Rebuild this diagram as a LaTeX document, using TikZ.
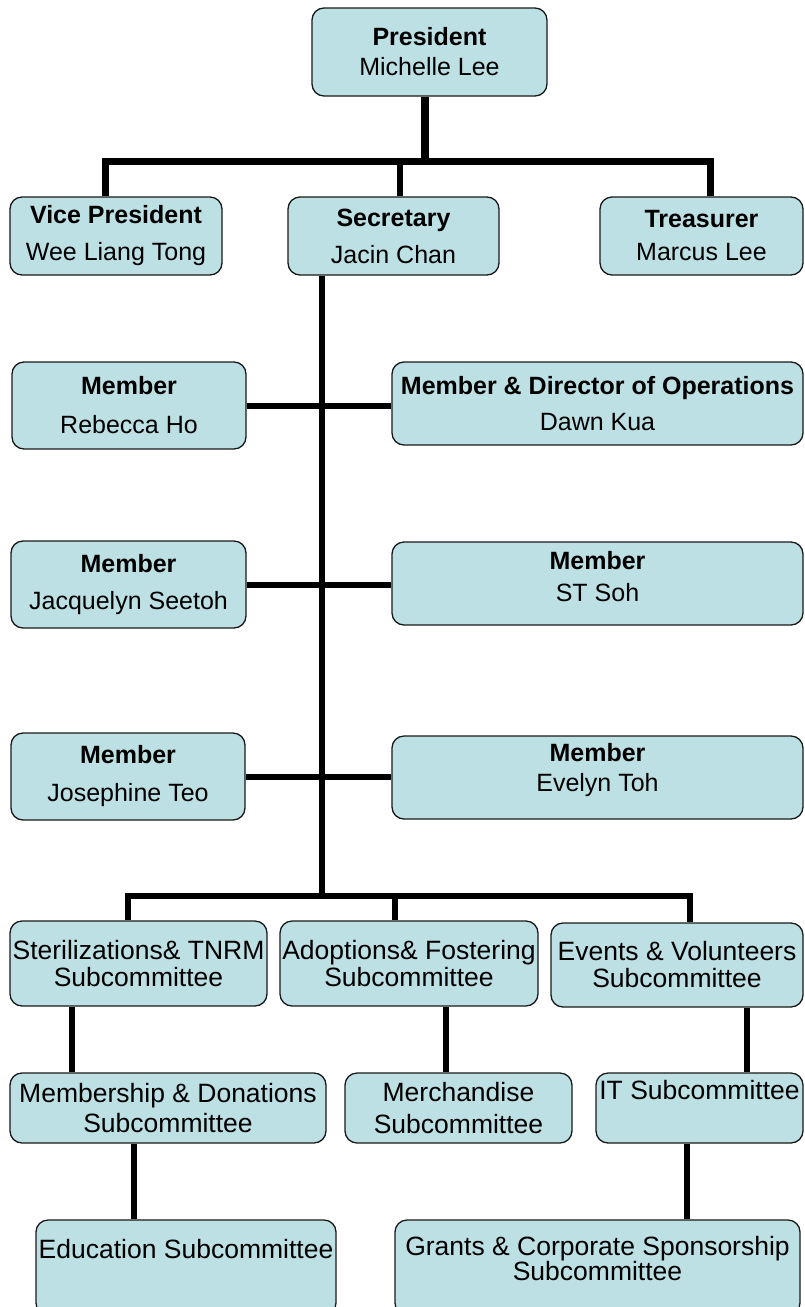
\documentclass[tikz,border=0pt]{standalone}
\usepackage{fontspec}
\setmainfont{Liberation Sans}
\usepackage{xcolor}
\usepackage{tikz}
\definecolor{boxblue}{RGB}{189,224,228}

\begin{document}
\begin{tikzpicture}[
            x=1pt, y=-1pt,
            box/.style={rectangle, rounded corners=12pt, draw=black!90, line width=1.3pt, fill=boxblue, align=center, inner sep=0pt, font=\fontsize{25}{30}\selectfont},
            subbox/.style={box, font=\fontsize{26.5}{30}\selectfont},
            link/.style={line width=6pt, black}
        ]
            \useasboundingbox (0,0) rectangle (805,1307);
            \begin{scope}[
                every node/.style={box}
            ]
                % Officers
                \node[minimum width=235, minimum height=88] (pres) at (429.5, 52) {\textbf{President}\\Michelle Lee};
                \node[minimum width=212, minimum height=78] (vp) at (116, 236) {\textbf{Vice President}\\[7pt]Wee Liang Tong};
                \node[minimum width=211, minimum height=78] (sec) at (393.5, 236) {\textbf{Secretary}\\[7pt]Jacin Chan};
                \node[minimum width=203, minimum height=78] (tre) at (701.5, 236) {\textbf{Treasurer}\\[3pt]Marcus Lee};
                % Members
                \node[minimum width=234, minimum height=87] (m1) at (129, 405.5) {\textbf{Member}\\[9pt]Rebecca Ho};
                \node[minimum width=411, minimum height=83] (d1) at (597.5, 403.5) {\textbf{Member \& Director of Operations}\\[6pt]Dawn Kua};
                \node[minimum width=235, minimum height=87] (m2) at (128.5, 584.5) {\textbf{Member}\\[7pt]Jacquelyn Seetoh};
                \node[minimum width=411, minimum height=83] (d2) at (597.5, 583.5) {\textbf{Member}\\[2pt]ST Soh\\[-16pt]\mbox{}};
                \node[minimum width=234, minimum height=87] (m3) at (128, 776.5) {\textbf{Member}\\[8pt]Josephine Teo};
                \node[minimum width=411, minimum height=83] (d3) at (597.5, 777.5) {\textbf{Member}\\Evelyn Toh\\[-10pt]\mbox{}};
            \end{scope}
            \begin{scope}[
                every node/.style={subbox}
            ]
                % Subcommittees
                \node[minimum width=257, minimum height=85] (sc1) at (138.5, 963.5) {Sterilizations\& TNRM\\[-3pt]Subcommittee};
                \node[minimum width=258, minimum height=85] (sc2) at (409, 963.5) {Adoptions\& Fostering\\[-3pt]Subcommittee};
                \node[minimum width=252, minimum height=84] (sc3) at (677, 965) {Events \& Volunteers\\[-3pt]Subcommittee};
                \node[minimum width=316, minimum height=70] (ms) at (168, 1108) {Membership \& Donations\\Subcommittee};
                \node[minimum width=227, minimum height=70] (mer) at (458.5, 1108) {Merchandise\\[2pt]Subcommittee};
                \node[minimum width=207, minimum height=70, align=none, text depth=36pt] (it) at (699.5, 1108) {IT Subcommittee};
                \node[minimum width=300, minimum height=95, align=none, text depth=38pt] (edu) at (186, 1267.5) {Education Subcommittee};
                \node[minimum width=405, minimum height=95] (gr) at (597.5, 1267.5) {Grants \& Corporate Sponsorship\\[-5pt]Subcommittee\\[-12pt]\mbox{}};
            \end{scope}
            % Links
            \coordinate (topbar) at (425, 161);
            \coordinate (lowbar) at (322, 896);
            \draw[link, line width=8pt] (topbar |- pres.south) -- (topbar); % president down
            \draw[link, line width=7pt] ([xshift=-11pt]vp.north) |- (topbar) -| ([xshift=9pt]tre.north); % officers bar
            \draw[link] ([xshift=6pt]sec.north) -- ([xshift=6pt]sec.north |- topbar);
            \draw[link] (lowbar |- sec.south) -- (lowbar); % spine
            \draw[link] (m1.east) -- (m1.east -| d1.west);
            \draw[link] (m2.east) -- (m2.east -| d2.west);
            \draw[link] (m3.east) -- (m3.east -| d3.west);
            \draw[link] ([xshift=-10.5pt]sc1.north) |- (lowbar) -| ([xshift=13pt]sc3.north); % subcommittee bar
            \draw[link] ([xshift=-14pt]sc2.north) -- ([xshift=-14pt]sc2.north |- lowbar);
            \draw[link] ([xshift=-66.5pt]sc1.south) -- ([xshift=-66.5pt]sc1.south |- ms.north);
            \draw[link] ([xshift=37pt]sc2.south) -- ([xshift=37pt]sc2.south |- mer.north);
            \draw[link] ([xshift=70pt]sc3.south) -- ([xshift=70pt]sc3.south |- it.north);
            \draw[link] ([xshift=-34pt]ms.south) -- ([xshift=-34pt]ms.south |- edu.north);
            \draw[link] ([xshift=-12.5pt]it.south) -- ([xshift=-12.5pt]it.south |- gr.north);
        \end{tikzpicture}
\end{document}
